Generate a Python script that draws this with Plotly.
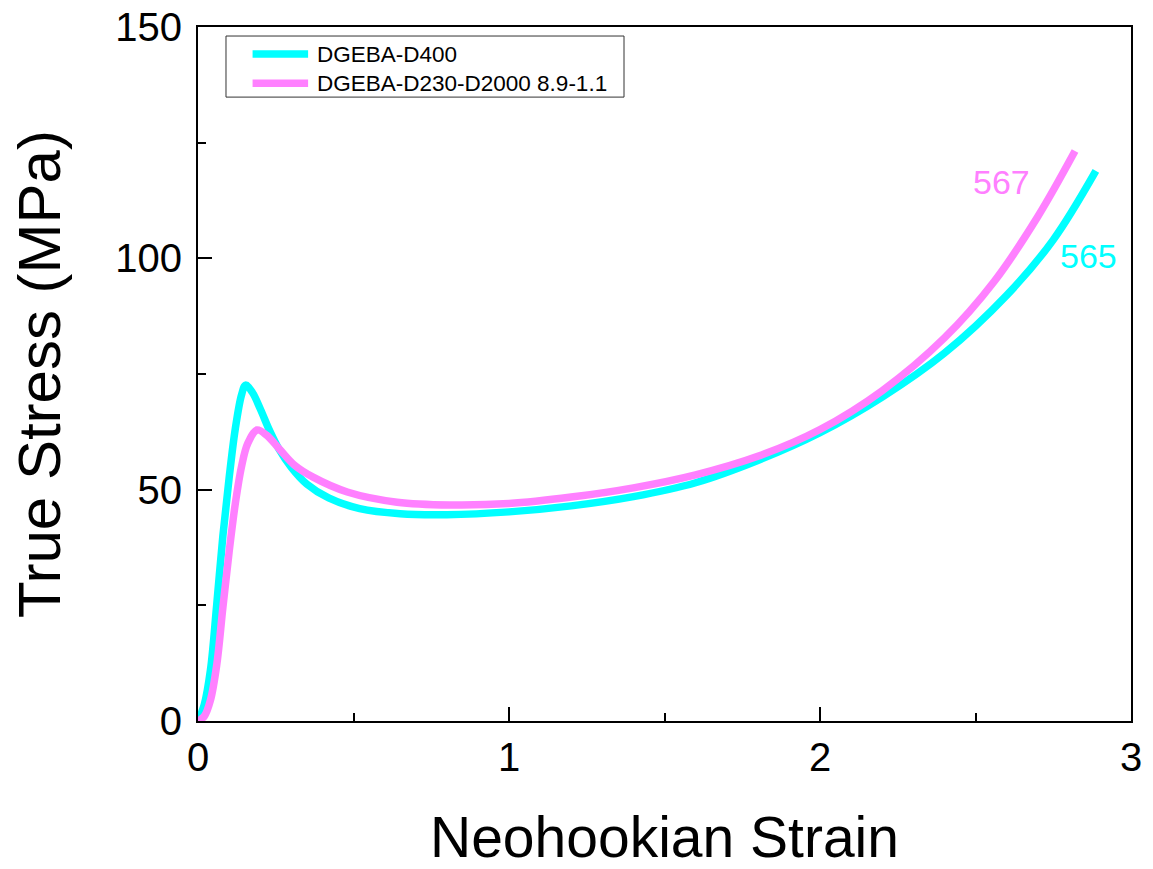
import plotly.graph_objects as go

# Neohookian strain vs true stress curves
d400_strain = [0, 0.02, 0.04, 0.06, 0.08, 0.1, 0.12, 0.14, 0.153, 0.175, 0.2, 0.23,
               0.26, 0.3, 0.35, 0.42, 0.52, 0.65, 0.8, 1.0, 1.2, 1.4, 1.6, 1.8,
               2.0, 2.2, 2.4, 2.6, 2.75, 2.887]
d400_stress = [0, 3.5, 11, 25, 40, 52.5, 63.2, 70.5, 72.6, 71, 67.5, 62.8,
               58.8, 54.8, 51.2, 48.2, 45.9, 44.8, 44.6, 45.2, 46.5, 48.5, 51.5, 56.3,
               62.3, 70, 79.5, 92, 104, 118.9]

mix_strain = [0, 0.02, 0.04, 0.06, 0.08, 0.1, 0.12, 0.14, 0.16, 0.19, 0.22, 0.264,
              0.31, 0.37, 0.48, 0.64, 0.81, 1.0, 1.2, 1.4, 1.6, 1.8, 2.0, 2.2,
              2.4, 2.56, 2.7, 2.82]
mix_stress = [0, 1.0, 4.5, 12, 24.5, 36.5, 47, 55, 60, 62.9, 61.8, 58.6,
              55.3, 52.7, 49.5, 47.3, 46.7, 47, 48.4, 50.4, 53.2, 57.2, 63.0, 71.4,
              82.8, 95.0, 109.0, 123.2]

series_names = ["DGEBA-D400", "DGEBA-D230-D2000 8.9-1.1"]
series_colors = ["#00FFFF", "#FF80FF"]
end_labels = ["565", "567"]
x_ticks = [0, 1, 2, 3]
y_ticks = [0, 50, 100, 150]

FONT = "Liberation Sans, Arial, sans-serif"

fig = go.Figure()
for xs, ys, name, col in [(d400_strain, d400_stress, series_names[0], series_colors[0]),
                          (mix_strain, mix_stress, series_names[1], series_colors[1])]:
    fig.add_trace(go.Scatter(x=xs, y=ys, mode="lines", name=name,
                             line=dict(color=col, width=7.5, shape="spline", smoothing=1.0),
                             showlegend=False))

# value labels at curve ends
fig.add_annotation(x=2.862, y=100.4, text=end_labels[0], showarrow=False,
                   font=dict(family=FONT, size=34, color=series_colors[0]))
fig.add_annotation(x=2.582, y=116.6, text=end_labels[1], showarrow=False,
                   font=dict(family=FONT, size=34, color=series_colors[1]))

# legend box drawn in paper coordinates
fig.add_shape(type="rect", xref="paper", yref="paper", x0=0.030, x1=0.4566, y0=0.899, y1=0.987,
              line=dict(color="#333333", width=1), fillcolor="rgba(255,255,255,0)")
leg_rows = [0.961, 0.919]
for row_y, name, col in zip(leg_rows, series_names, series_colors):
    fig.add_shape(type="line", xref="paper", yref="paper", x0=0.0585, x1=0.118, y0=row_y, y1=row_y,
                  line=dict(color=col, width=7.5))
    fig.add_annotation(xref="paper", yref="paper", x=0.1255, y=row_y, text=name, showarrow=False,
                       xanchor="left", yanchor="middle",
                       font=dict(family=FONT, size=22.5, color="black"))

axis_common = dict(showline=True, linecolor="black", linewidth=2, mirror=True,
                   ticks="inside", ticklen=14, tickwidth=2, tickcolor="black",
                   showgrid=False, zeroline=False, automargin=False,
                   tickfont=dict(family=FONT, size=40, color="black"))

fig.update_xaxes(range=[0, 3], tickvals=x_ticks,
                 minor=dict(ticks="inside", ticklen=8, tickwidth=2, tickcolor="black", dtick=0.5, tick0=0),
                 title=dict(text="Neohookian Strain", font=dict(family=FONT, size=57, color="black"),
                            standoff=39),
                 **axis_common)
fig.update_yaxes(range=[0, 150], tickvals=y_ticks, ticklabelstandoff=6,
                 minor=dict(ticks="inside", ticklen=8, tickwidth=2, tickcolor="black", dtick=25, tick0=0),
                 title=dict(text="True Stress (MPa)", font=dict(family=FONT, size=60, color="black"),
                            standoff=35),
                 **axis_common)

fig.update_layout(width=1153, height=869, plot_bgcolor="white", paper_bgcolor="white",
                  margin=dict(l=198, r=22, t=27, b=148))

fig.write_html("out.html")
